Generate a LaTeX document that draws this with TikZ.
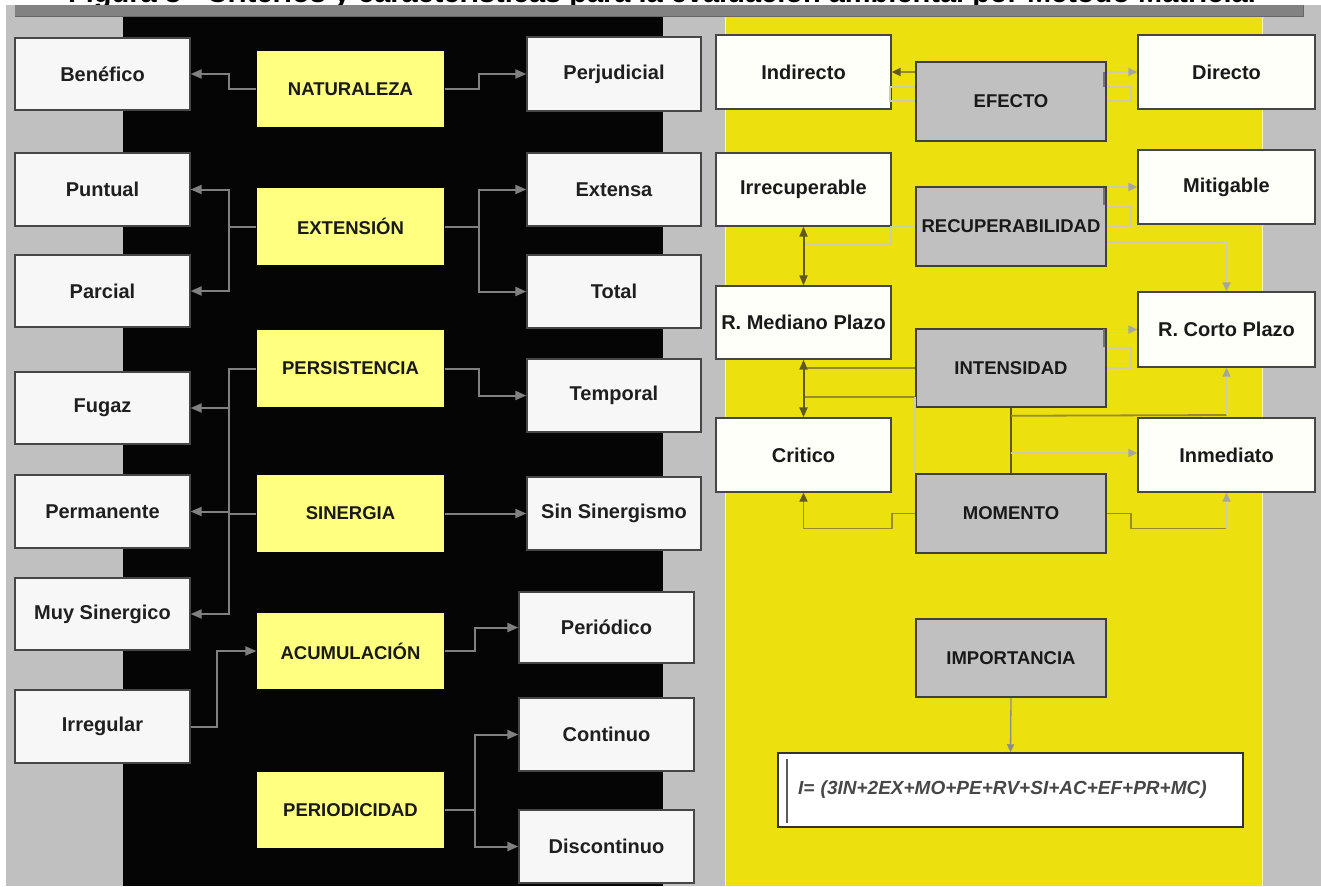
\documentclass[tikz,border=0pt]{standalone}
\usepackage{fontspec}
\setmainfont{Liberation Sans}
\usetikzlibrary{arrows.meta,calc}

\definecolor{bggray}{RGB}{192,192,192}
\definecolor{panelblack}{RGB}{5,5,5}
\definecolor{panelyellow}{RGB}{236,224,14}
\definecolor{lightyellow}{RGB}{255,255,128}
\definecolor{nodegray}{RGB}{192,192,192}
\definecolor{barfill}{RGB}{130,130,130}
\definecolor{linkgray}{RGB}{128,128,128}
\definecolor{lnkolive}{RGB}{150,140,45}
\definecolor{lnkdark}{RGB}{95,88,30}
\definecolor{lnkpale}{RGB}{205,204,172}
\definecolor{boxedge}{RGB}{70,70,70}
\definecolor{tippale}{RGB}{166,166,158}

\tikzset{
  box/.style={rectangle, inner sep=0pt, anchor=center, line width=1.3pt, align=center},
  wleft/.style={box, draw=boxedge, fill=black!3, text=black!88,
    font=\fontsize{20}{24}\selectfont\bfseries},
  wright/.style={box, draw=boxedge, fill={rgb,255:red,255;green,255;blue,250}, text=black!90,
    font=\fontsize{20}{24}\selectfont\bfseries},
  ybox/.style={box, fill=lightyellow, text=black!90,
    font=\fontsize{18.5}{22}\selectfont\bfseries},
  gbox/.style={box, draw=black!75, line width=1.6pt, fill=nodegray, text=black!90,
    font=\fontsize{18.5}{22}\selectfont\bfseries},
  glink/.style={draw=linkgray, line width=2pt},
  garr/.style={glink, -{Triangle[length=11pt,width=9pt]}},
  olink/.style={draw=lnkolive, line width=1.8pt},
  oarr/.style={olink, -{Triangle[length=9pt,width=8pt,color=lnkdark]}},
  darr/.style={draw=lnkdark, line width=2pt, {Triangle[length=10pt,width=8pt]}-{Triangle[length=10pt,width=8pt]}},
  dlink/.style={draw=lnkdark, line width=1.8pt},
  plink/.style={draw=lnkpale, line width=1.8pt},
  parr/.style={plink, -{Triangle[length=9pt,width=8pt,color=tippale]}},
  tick/.style={draw=black!55, line width=2.5pt},
}

\begin{document}
\begin{tikzpicture}[x=1pt,y=-1pt]
\useasboundingbox (0,0) rectangle (1321,886);

% backgrounds and panels
\fill[white] (0,0) rectangle (1321,886);
\fill[bggray] (6,5) rectangle (1321,886);
\fill[panelblack] (123,16) rectangle (663,886);
\fill[panelyellow] (725,16) rectangle (1263,886);
\draw[white!70!panelyellow, line width=1pt] (725.5,16) -- (725.5,886) (1262.5,16) -- (1262.5,886);

% heading strip (only the lower edge of the heading line lies inside the page)
\begin{scope}
  \clip (0,0) rectangle (1321,5.5);
  \node[anchor=base, font=\fontsize{29}{34}\selectfont\bfseries] (heading) at (662,2)
    {Figura 8 - Criterios y características para la evaluación ambiental por Método Matricial};
\end{scope}
\fill[barfill] (15,5) rectangle (1303,16);
\draw[black!60, line width=1pt] (15,16) -- (1303,16) -- (1303,5);

% ---------- left block ----------
\node[wleft, minimum width=175, minimum height=72] (benefico)   at (102.5,74)    {Benéfico};
\node[wleft, minimum width=175, minimum height=73] (puntual)    at (102.5,189.5) {Puntual};
\node[wleft, minimum width=175, minimum height=72] (parcial)    at (102.5,291)   {Parcial};
\node[wleft, minimum width=175, minimum height=72] (fugaz)      at (102.5,408)   {Fugaz};
\node[wleft, minimum width=175, minimum height=73] (permanente) at (102.5,511.5) {Permanente};
\node[wleft, minimum width=175, minimum height=72] (muysin)     at (102.5,614)   {Muy Sinergico};
\node[wleft, minimum width=175, minimum height=73] (irregular)  at (102.5,726.5) {Irregular};

\node[ybox, minimum width=187, minimum height=76] (naturaleza)   at (350.5,89)    {NATURALEZA};
\node[ybox, minimum width=187, minimum height=77] (extension)    at (350.5,226.5) {EXTENSIÓN};
\node[ybox, minimum width=187, minimum height=77] (persistencia) at (350.5,368.5) {PERSISTENCIA};
\node[ybox, minimum width=187, minimum height=77] (sinergia)     at (350.5,513.5) {SINERGIA};
\node[ybox, minimum width=187, minimum height=76] (acumulacion)  at (350.5,651)   {ACUMULACIÓN};
\node[ybox, minimum width=187, minimum height=76] (periodicidad) at (350.5,810)   {PERIODICIDAD};

\node[wleft, minimum width=174, minimum height=74] (perjudicial) at (614,74)    {Perjudicial};
\node[wleft, minimum width=174, minimum height=73] (extensa)     at (614,189.5) {Extensa};
\node[wleft, minimum width=174, minimum height=73] (total)       at (614,291.5) {Total};
\node[wleft, minimum width=174, minimum height=73] (temporal)    at (614,395.5) {Temporal};
\node[wleft, minimum width=174, minimum height=73] (sinsin)      at (614,513.5) {Sin Sinergismo};
\node[wleft, minimum width=175, minimum height=71] (periodico)   at (606.5,627.5) {Periódico};
\node[wleft, minimum width=175, minimum height=73] (continuo)    at (606.5,734.5) {Continuo};
\node[wleft, minimum width=175, minimum height=73] (discontinuo) at (606.5,846.5) {Discontinuo};

% bus columns
\coordinate (bl) at (229,0);
\coordinate (br) at (479,0);
\coordinate (bi) at (217,0);
\coordinate (bp) at (475,0);

\draw[garr] (naturaleza.west) -- (bl |- naturaleza.west) |- (benefico.east);
\draw[garr] (naturaleza.east) -- (br |- naturaleza.east) |- (perjudicial.west);

\draw[garr] (extension.west) -- (bl |- extension.west) |- (puntual.east);
\draw[garr] (bl |- extension.west) |- (parcial.east);
\draw[garr] (extension.east) -- (br |- extension.east) |- (extensa.west);
\draw[garr] (br |- extension.east) |- (total.west);

\draw[garr] (persistencia.west) -- (bl |- persistencia.west) |- (fugaz.east);
\draw[garr] (bl |- fugaz.east) |- (permanente.east);
\draw[garr] (bl |- permanente.east) |- (muysin.east);
\draw[glink] (sinergia.west) -- (bl |- sinergia.west);
\draw[garr] (persistencia.east) -- (br |- persistencia.east) |- (temporal.west);
\draw[garr] (sinergia.east) -- (sinsin.west);

\draw[garr] (irregular.east) -- (bi |- irregular.east) |- (acumulacion.west);
\draw[garr] (acumulacion.east) -- (bp |- acumulacion.east) |- (periodico.west);
\draw[garr] (periodicidad.east) -- (bp |- periodicidad.east) |- (continuo.west);
\draw[garr] (bp |- periodicidad.east) |- (discontinuo.west);

% ---------- right block ----------
\node[wright, minimum width=175, minimum height=74] (indirecto)     at (803.5,72)    {Indirecto};
\node[wright, minimum width=175, minimum height=73] (irrecuperable) at (803.5,189.5) {Irrecuperable};
\node[wright, minimum width=175, minimum height=73] (mediano)       at (803.5,322.5) {R. Mediano Plazo};
\node[wright, minimum width=175, minimum height=74] (critico)       at (803.5,455)   {Critico};

\node[gbox, minimum width=190, minimum height=79] (efecto)      at (1011,101.5) {EFECTO};
\node[gbox, minimum width=190, minimum height=79] (recup)       at (1011,226.5) {RECUPERABILIDAD};
\node[gbox, minimum width=190, minimum height=78] (intensidad)  at (1011,368)   {INTENSIDAD};
\node[gbox, minimum width=190, minimum height=79] (momento)     at (1011,513.5) {MOMENTO};
\node[gbox, minimum width=190, minimum height=78] (importancia) at (1011,658)   {IMPORTANCIA};

\node[wright, minimum width=177, minimum height=74] (directo)   at (1226.5,72)    {Directo};
\node[wright, minimum width=177, minimum height=74] (mitigable) at (1226.5,187)   {Mitigable};
\node[wright, minimum width=177, minimum height=75] (corto)     at (1226.5,329.5) {R. Corto Plazo};
\node[wright, minimum width=177, minimum height=74] (inmediato) at (1226.5,455)   {Inmediato};

\node[box, draw=black!80, line width=1.5pt, fill=white, minimum height=74,
      text width=425, inner xsep=20pt, align=left, text=black!72,
      font=\fontsize{19}{22}\selectfont\bfseries\itshape] (formula) at (1010.5,790)
      {I= (3IN+2EX+MO+PE+RV+SI+AC+EF+PR+MC)};
\draw[black!65, line width=1.6pt] ([xshift=10pt,yshift=-7pt]formula.north west) -- ([xshift=10pt,yshift=5pt]formula.south west);

% EFECTO links
\draw[oarr] (efecto.west |- indirecto.east) -- (indirecto.east);
\draw[plink] (efecto.west) ++(0,-14.5) -- ++(-25,0) -- ++(0,14) -- ++(25,0);
\draw[parr] (efecto.east |- directo.west) -- (directo.west);
\draw[tick] ([xshift=-3pt]efecto.east |- directo.west) -- ++(0,15);
\draw[plink] (efecto.east) ++(0,-14.5) -- ++(24,0) -- ++(0,14) -- ++(-24,0);

% RECUPERABILIDAD links
\draw[parr] (recup.east |- mitigable.west) -- (mitigable.west);
\draw[tick] ([xshift=-3pt]recup.north east) ++(0,2) -- ++(0,17);
\draw[plink] (recup.east) ++(0,-19.5) -- ++(24,0) -- ++(0,19.5) -- ++(-24,0);
\draw[parr] ([yshift=-15.5pt]recup.east) -| (corto.north);
\path (irrecuperable.south) ++(0,17) coordinate (j1);
\draw[plink] (recup.west) -- ++(-24,0) |- (j1);
\draw[darr] (irrecuperable.south) -- (mediano.north);

% INTENSIDAD links
\draw[parr] (intensidad.east |- corto.west) -- (corto.west);
\draw[tick] ([xshift=-3pt]intensidad.north east) ++(0,1) -- ++(0,18);
\draw[plink] (intensidad.east) ++(0,-20) -- ++(24,0) -- ++(0,20) -- ++(-24,0);
\draw[olink] (intensidad.west) -- (mediano.south |- intensidad.west);
\draw[olink] ([yshift=-29pt]intensidad.west) -- (mediano.south |- 0,397);
\draw[plink] ([yshift=-29pt]intensidad.west) -- (momento.north west);
\draw[darr] (mediano.south) -- (critico.north);
\draw[dlink] (intensidad.south) -- (momento.north);
\draw[olink] ([yshift=-8pt]intensidad.south) -- (corto.south |- 0,415);
\draw[parr] (corto.south |- 0,415) -- (corto.south);
\draw[parr] (intensidad.south |- 0,453) -- (inmediato.west |- 0,453);

% MOMENTO links
\draw[oarr] (momento.west) -- ++(-23,0) -- ++(0,15) -| (critico.south);
\draw[olink] (momento.east) -- ++(24,0) -- ++(0,15) -- (inmediato.south |- 0,528.5);
\draw[parr] (inmediato.south |- 0,528.5) -- (inmediato.south);

% IMPORTANCIA to formula
\draw[draw=black!45, line width=1.3pt, -{Triangle[length=8pt,width=7pt]}] (importancia.south) -- (formula.north);

\end{tikzpicture}
\end{document}
